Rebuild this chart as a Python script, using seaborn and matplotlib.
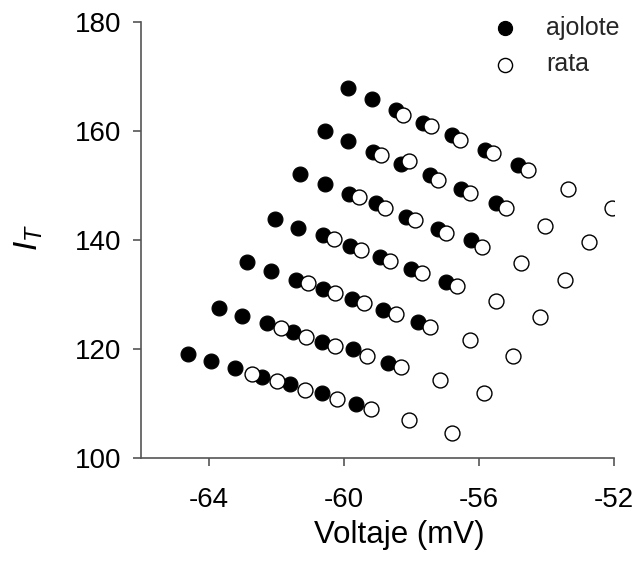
import matplotlib
matplotlib.use("Agg")
import matplotlib.pyplot as plt
import seaborn as sns
import pandas as pd

# ajolote (filled circles), seven diagonal series
ajolote_v = [-59.87, -59.17, -58.44, -57.65, -56.78, -55.82, -54.84,
             -60.56, -59.87, -59.13, -58.29, -57.45, -56.51, -55.48,
             -61.28, -60.56, -59.85, -59.05, -58.14, -57.20, -56.22,
             -62.04, -61.35, -60.61, -59.80, -58.93, -57.99, -56.98,
             -62.86, -62.14, -61.41, -60.61, -59.75, -58.83, -57.80,
             -63.69, -63.00, -62.28, -61.49, -60.65, -59.72, -58.68,
             -64.60, -63.94, -63.22, -62.41, -61.58, -60.65, -59.64]
ajolote_I = [167.8, 165.8, 163.8, 161.4, 159.2, 156.5, 153.7,
             160.0, 158.1, 156.1, 154.0, 151.9, 149.4, 146.7,
             152.1, 150.3, 148.5, 146.8, 144.2, 142.0, 139.9,
             143.9, 142.1, 140.8, 138.8, 136.9, 134.6, 132.3,
             135.9, 134.3, 132.6, 130.9, 129.1, 127.1, 125.0,
             127.4, 126.1, 124.7, 123.1, 121.2, 120.0, 117.4,
             119.0, 117.7, 116.4, 114.9, 113.5, 111.8, 109.9]

# rata (open circles)
rata_v = [-58.24, -57.42, -56.56, -55.58, -54.54, -53.36, -52.06,
          -58.88, -58.07, -57.20, -56.27, -55.20, -54.03, -52.73,
          -59.55, -58.78, -57.89, -56.96, -55.89, -54.74, -53.43,
          -60.29, -59.49, -58.63, -57.67, -56.64, -55.48, -54.17,
          -61.05, -60.26, -59.40, -58.46, -57.43, -56.27, -54.98,
          -61.86, -61.10, -60.26, -59.32, -58.29, -57.14, -55.85,
          -62.71, -61.96, -61.13, -60.21, -59.20, -58.06, -56.78]
rata_I = [163.0, 160.9, 158.4, 155.9, 152.8, 149.4, 145.8,
          155.5, 154.4, 151.0, 148.6, 145.8, 142.6, 139.6,
          147.8, 145.9, 143.6, 141.3, 138.7, 135.8, 132.6,
          140.1, 138.1, 136.1, 133.9, 131.5, 128.8, 125.8,
          132.0, 130.3, 128.4, 126.4, 124.0, 121.6, 118.7,
          123.9, 122.2, 120.6, 118.7, 116.7, 114.3, 111.8,
          115.4, 114.1, 112.5, 110.8, 108.9, 106.9, 104.6]

x_ticks = [-64, -60, -56, -52]
y_ticks = [100, 120, 140, 160, 180]

df_a = pd.DataFrame({"Voltaje": ajolote_v, "IT": ajolote_I})
df_r = pd.DataFrame({"Voltaje": rata_v, "IT": rata_I})

sns.set_style("ticks")
plt.rcParams["font.family"] = ["Liberation Sans", "DejaVu Sans"]
plt.rcParams["axes.unicode_minus"] = False
plt.rcParams["mathtext.fontset"] = "custom"
plt.rcParams["mathtext.it"] = "Liberation Sans:italic"
plt.rcParams["mathtext.rm"] = "Liberation Sans"

fig = plt.figure(figsize=(6.38, 5.61), dpi=100)
ax = fig.add_axes([0.221, 0.184, 0.741, 0.777])

sns.scatterplot(data=df_a, x="Voltaje", y="IT", ax=ax, s=115,
                color="black", edgecolor="black", linewidth=0.8,
                label="ajolote", zorder=3)
sns.scatterplot(data=df_r, x="Voltaje", y="IT", ax=ax, s=115,
                facecolor="white", edgecolor="black", linewidth=1.0,
                label="rata", zorder=4)

ax.set_xlim(-66, -52)
ax.set_ylim(100, 180)
ax.set_xticks(x_ticks)
ax.set_yticks(y_ticks)
ax.tick_params(axis="both", labelsize=20, length=6, width=1.2,
               color="#555555", labelcolor="black")
ax.tick_params(axis="x", pad=15)
ax.tick_params(axis="y", pad=8)
for side in ["top", "right"]:
    ax.spines[side].set_visible(False)
for side in ["left", "bottom"]:
    ax.spines[side].set_linewidth(1.2)
    ax.spines[side].set_color("#555555")

ax.set_xlabel("Voltaje (mV)", fontsize=22.5, color="black")
ax.xaxis.set_label_coords(0.547, -0.142)
ax.set_ylabel(r"$I_T$", fontsize=24, color="black")
ax.yaxis.set_label_coords(-0.203, 0.506)

ax.legend(loc="upper left", bbox_to_anchor=(492.5 / 638, 0.972),
          bbox_transform=fig.transFigure, frameon=False,
          fontsize=18, handlelength=1.0, handletextpad=1.14,
          labelspacing=0.5, borderpad=0, borderaxespad=0,
          markerscale=0.95)

fig.savefig("out.png", dpi=100)
